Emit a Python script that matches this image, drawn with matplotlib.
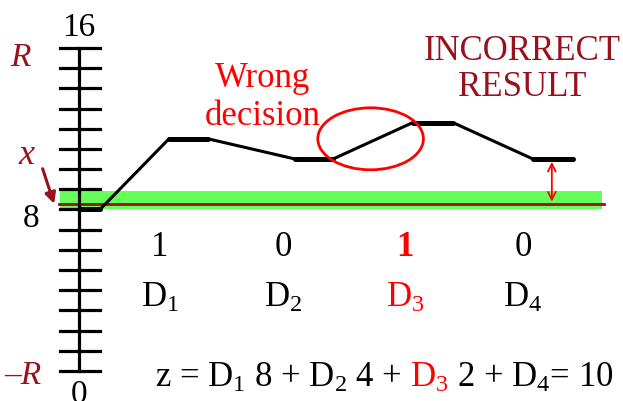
import matplotlib.pyplot as plt
from matplotlib.patches import Ellipse, Rectangle

plt.rcParams['font.family'] = ['Liberation Serif', 'DejaVu Serif']
plt.rcParams['mathtext.fontset'] = 'custom'
plt.rcParams['mathtext.rm'] = 'Liberation Serif'
plt.rcParams['mathtext.it'] = 'Liberation Serif:italic'

# staircase of the DAC output (time in bit periods, value in LSB units)
stair_t = [0.0, 0.175, 0.75, 1.075, 1.8, 2.117, 2.78, 3.117, 3.783, 4.117]
stair_v = [8.0, 8.0, 11.5, 11.5, 10.5, 10.5, 12.3, 12.3, 10.5, 10.5]
flat_pairs = [(0, 1), (2, 3), (4, 5), (6, 7), (8, 9)]

x_level = 8.25
band_lo, band_hi = 8.0, 8.9
ticks = list(range(0, 17))

bits = ['1', '0', '1', '0']
bit_names = ['D$_1$', 'D$_2$', 'D$_3$', 'D$_4$']
bit_t = [0.675, 1.7, 2.717, 3.7]
bit_colors = ['black', 'black', 'red', 'black']

dark_red = '#98111c'

fig = plt.figure(figsize=(6.23, 4.01), dpi=100)
ax = fig.add_axes([0, 0, 1, 1])
ax.set_xlim(-0.658, 4.533)
ax.set_ylim(-1.486, 18.375)
ax.axis('off')

# green tolerance band and x level
ax.add_patch(Rectangle((-0.158, band_lo), 4.52, band_hi - band_lo,
                       color='#66ff5a', lw=0, zorder=1))
ax.plot([-0.167, 4.375], [x_level, x_level], color=dark_red, lw=2, zorder=2)

# vertical scale
ax.plot([0, 0], [0, 16], color='black', lw=2.3, zorder=3)
for v in ticks:
    ax.plot([-0.158, 0.175], [v, v], color='black', lw=2.3, zorder=3)
ax.text(0, 16.25, '16', ha='center', va='bottom', fontsize=24)
ax.text(0, -0.4, '0', ha='center', va='top', fontsize=24)
ax.text(-0.4, 7.55, '8', ha='center', va='center', fontsize=24)
ax.text(-0.49, 15.5, 'R', ha='center', va='center', fontsize=24,
        style='italic', color=dark_red)
ax.text(-0.47, -0.25, '–R', ha='center', va='center', fontsize=24,
        style='italic', color=dark_red)
ax.text(-0.44, 10.65, 'x', ha='center', va='center', fontsize=26,
        style='italic', color=dark_red)
ax.annotate('', xy=(-0.2, 8.15), xytext=(-0.31, 10.15),
            arrowprops=dict(arrowstyle='-|>', color=dark_red, lw=2.2,
                            mutation_scale=16), zorder=4)

# staircase
ax.plot(stair_t, stair_v, color='black', lw=2.2, zorder=4)
for a, b in flat_pairs:
    ax.plot([stair_t[a], stair_t[b]], [stair_v[a], stair_v[b]],
            color='black', lw=3.6, solid_capstyle='round', zorder=4)

# wrong decision
ax.add_patch(Ellipse((2.43, 11.5), 0.88, 3.07, fill=False, ec='red',
                     lw=2, zorder=5))
ax.text(1.53, 13.55, 'Wrong\ndecision', ha='center', va='center',
        fontsize=25, color='red', linespacing=1.2)
ax.text(3.69, 14.95, 'INCORRECT\nRESULT', ha='center', va='center',
        fontsize=25, color=dark_red, linespacing=1.12)

# error arrow
ax.annotate('', xy=(3.94, x_level), xytext=(3.94, 10.5),
            arrowprops=dict(arrowstyle='<->', color='red', lw=1.3,
                            mutation_scale=14), zorder=5)

# bit values and names
for t, b, n, c in zip(bit_t, bits, bit_names, bit_colors):
    ax.text(t, 6.1, b, ha='center', va='center', fontsize=25,
            color=c, fontweight='bold' if c == 'red' else 'normal')
    ax.text(t, 3.6, n, ha='center', va='center', fontsize=25, color=c)

# formula, D3 highlighted
p1 = ax.text(0.63, -0.8, 'z = D$_1$ 8 + D$_2$ 4 +', ha='left',
             va='baseline', fontsize=25)
p2 = ax.annotate('D$_3$', xy=(1, 0), xycoords=p1, xytext=(6, 0),
                 textcoords='offset points', va='bottom',
                 fontsize=25, color='red')
ax.annotate('2 + D$_4$= 10', xy=(1, 0), xycoords=p2, xytext=(6, 0),
            textcoords='offset points', va='bottom', fontsize=25)

fig.savefig('out.png', dpi=100)
